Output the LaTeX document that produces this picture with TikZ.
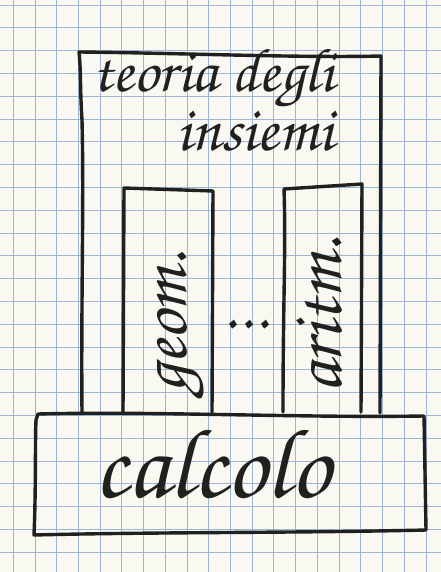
\documentclass[tikz,border=0pt]{standalone}
\usepackage{graphicx}
\newcommand\handfont{\fontencoding{T1}\fontfamily{pzc}\fontseries{mb}\fontshape{it}\selectfont}
\definecolor{paper}{RGB}{249,249,241}
\definecolor{gridblue}{RGB}{158,180,212}
\definecolor{pen}{RGB}{32,32,30}
\tikzset{
  pen/.style={draw=pen, line width=3.4pt, line join=round, line cap=round},
  hand/.style={text=pen, font=\handfont, inner sep=0pt},
  gridline/.style={draw=gridblue, line width=0.9pt}
}
\begin{document}
\begin{tikzpicture}[x=1pt,y=-1pt]
\fill[paper] (0,0) rectangle (441,572);
\useasboundingbox (0,0) rectangle (441,572);
% grid paper
\foreach \i in {0,...,19} {\draw[gridline] ({13.3+21.72*\i},0) -- ({13.3+21.72*\i},572);}
\foreach \j in {0,...,24} {\draw[gridline] (0,{5+22.8*\j}) -- (441,{5+22.8*\j});}

% corner coordinates
\coordinate (oBL) at (82,413);
\coordinate (oTL) at (79,52);
\coordinate (oTR) at (381,56);
\coordinate (oBR) at (380,413);
\coordinate (gBL) at (123,412);
\coordinate (gTL) at (124,188);
\coordinate (gTR) at (213,191);
\coordinate (gBR) at (212,412);
\coordinate (aBL) at (283,412);
\coordinate (aTL) at (284,189);
\coordinate (aTR) at (362,184);
\coordinate (aBR) at (361,412);
\coordinate (cTL) at (38,414);
\coordinate (cTR) at (424,416);
\coordinate (cBR) at (426,530);
\coordinate (cBL) at (34,535);

% teoria degli insiemi (outer box)
\draw[pen] (oBL) .. controls (81,300) and (84,200) .. (82,120) .. controls (80,90) and (81,70) .. (oTL)
  .. controls (180,53) and (300,58) .. (oTR) -- (oBR);
% geom box
\draw[pen] (gBL) -- (gTL) -- (gTR) -- (gBR);
% aritm box
\draw[pen] (aBL) .. controls (283,300) and (286,250) .. (aTL) -- (aTR) -- (aBR);
% calcolo box
\draw[pen] (cTL) .. controls (150,411) and (300,418) .. (cTR) -- (cBR)
  .. controls (300,533) and (150,532) .. (cBL) .. controls (36,490) and (35,440) .. (36,420) -- cycle;

% texts
\node[hand, anchor=base west, font=\handfont\fontsize{62}{62}\selectfont] (teoria) at (92,92) {teoria degli};
\node[hand, anchor=base west, font=\handfont\fontsize{64}{64}\selectfont] (insiemi) at (176,150) {insiemi};
\node[hand, rotate=90, anchor=base west, font=\handfont\fontsize{71}{71}\selectfont] (geom) at (186,394) {geom.};
\node[hand, rotate=90, anchor=base west, font=\handfont\fontsize{73}{73}\selectfont] (aritm) at (341,394) {aritm.};
\node[hand, anchor=base, font=\handfont\fontsize{66}{66}\selectfont] (dots) at (246,328) {.\kern1.5pt.\kern1.5pt.};
\node[hand, anchor=base west, font=\handfont\fontsize{99}{99}\selectfont] (calcolo) at (94,497) {calcolo};
\end{tikzpicture}
\end{document}
